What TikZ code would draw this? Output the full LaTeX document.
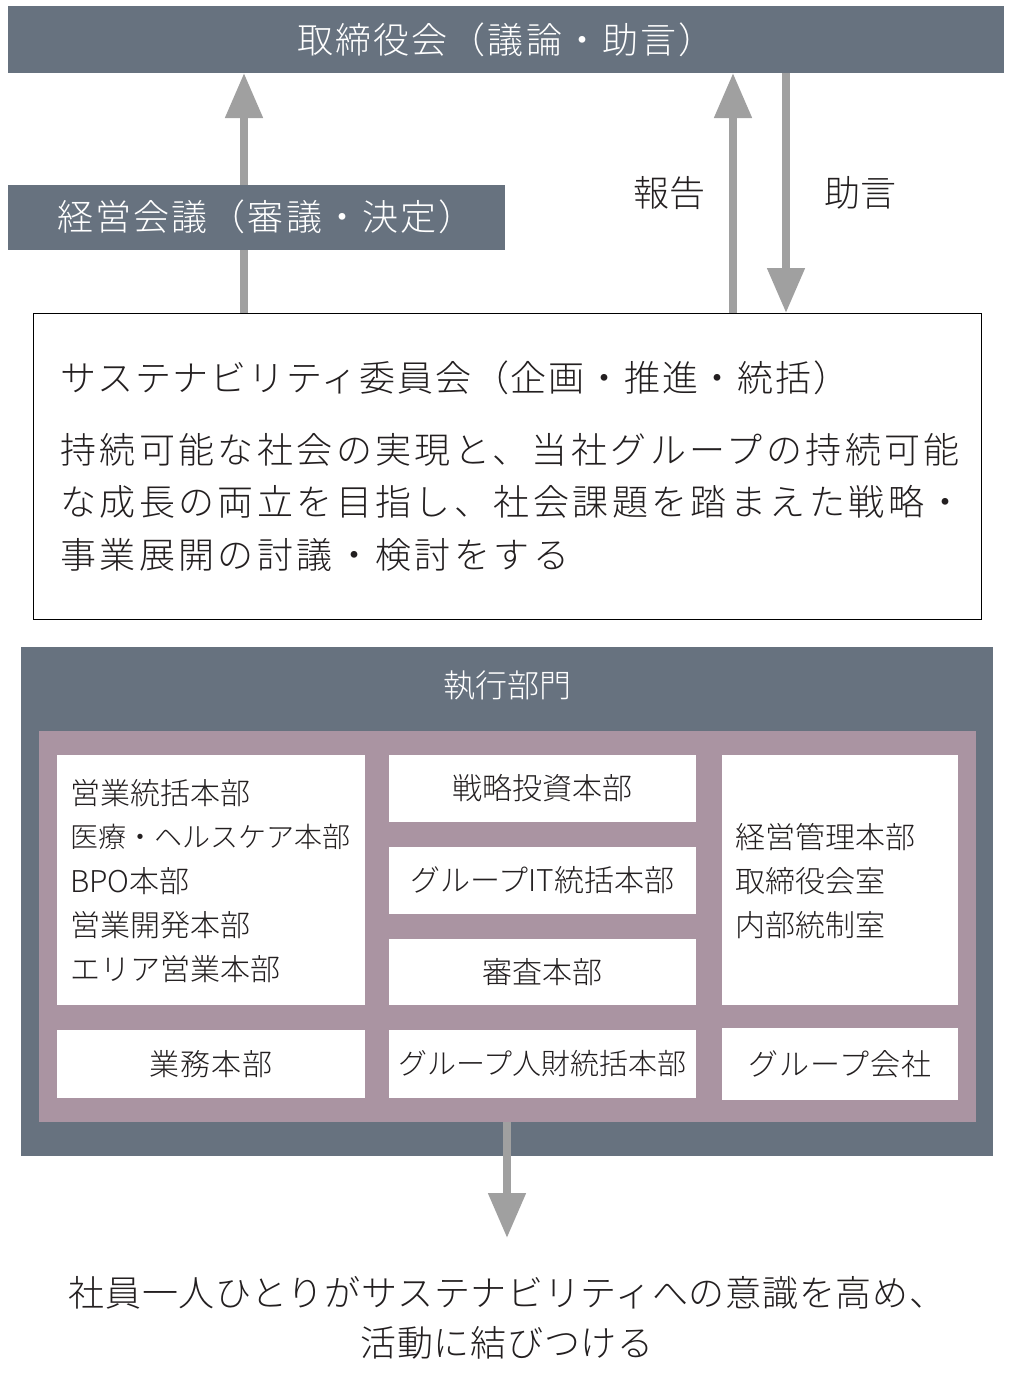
\documentclass[tikz,border=0pt]{standalone}
\usepackage{fontspec}
\setmainfont{Noto Sans CJK JP Light}
\usetikzlibrary{arrows.meta}
\definecolor{slate}{HTML}{67727F}
\definecolor{mauve}{HTML}{AA94A2}
\definecolor{arrowgray}{HTML}{A0A0A0}
\definecolor{ink}{HTML}{231F20}
\newcommand\fsBig{\fontsize{36}{44}\selectfont}
\newcommand\fsMid{\fontsize{32}{38}\selectfont}
\newcommand\fsSmall{\fontsize{30}{36}\selectfont}
\begin{document}
\begin{tikzpicture}[x=1pt,y=-1pt,
  box/.style={anchor=north west, inner sep=0pt, outer sep=0pt},
  darkbox/.style={box, fill=slate, text=white},
  whitebox/.style={box, fill=white, text=ink},
  bigarrow/.style={draw=arrowgray, line width=8pt, -{Triangle[length=45pt,width=36pt]}},
  lbl/.style={inner sep=0pt, text=ink},
  linetext/.style={inner sep=0pt, anchor=west, text=ink}
]
\useasboundingbox (0,0) rectangle (1012,1389);
\fill[white] (0,0) rectangle (1012,1389);

% board
\node[darkbox, minimum width=996pt, minimum height=67pt, font=\fsBig\addfontfeatures{LetterSpace=6}] (board) at (8,6) {取締役会（議論・助言）};

% sustainability committee
\node[box, draw=black, line width=1pt, fill=white, minimum width=948pt, minimum height=306pt] (sus) at (33,313) {};
\node[linetext, font=\fsBig\addfontfeatures{LetterSpace=5}] (s1) at (60,378) {サステナビリティ委員会（企画・推進・統括）};
\node[linetext, font=\fsBig\addfontfeatures{LetterSpace=9.5}] (s2) at (60,450) {持続可能な社会の実現と、当社グループの持続可能};
\node[linetext, font=\fsBig\addfontfeatures{LetterSpace=9.5}] (s3) at (60,502) {な成長の両立を目指し、社会課題を踏まえた戦略・};
\node[linetext, font=\fsBig\addfontfeatures{LetterSpace=9.5}] (s4) at (60,555) {事業展開の討議・検討をする};

% arrows between board and committee
\coordinate (xa) at (244,0);
\coordinate (xb) at (733,0);
\coordinate (xc) at (786,0);
\draw[bigarrow] (sus.north -| xa) -- (board.south -| xa);
\draw[bigarrow] (sus.north -| xb) -- (board.south -| xb);
\draw[bigarrow] (board.south -| xc) -- (sus.north -| xc);
\node[lbl, font=\fsBig] (rep) at (669,193) {報告};
\node[lbl, font=\fsBig] (adv) at (860,193) {助言};

% management meeting (drawn over arrow)
\node[darkbox, minimum width=497pt, minimum height=65pt] (keiei) at (8,185) {};
\node[inner sep=0pt, anchor=west, text=white, font=\fsBig\addfontfeatures{LetterSpace=6}] (keieit) at (57,217) {経営会議（審議・決定）};

% executive division
\node[darkbox, minimum width=972pt, minimum height=509pt] (exec) at (21,647) {};
\node[inner sep=0pt, text=white, font=\fsMid] (exect) at (507,686) {執行部門};
\node[box, fill=mauve, minimum width=937pt, minimum height=391pt] (inner) at (39,731) {};

% white boxes
\node[whitebox, minimum width=308pt, minimum height=250pt] (bl) at (57,755) {};
\node[linetext, font=\fsSmall] (bl1) at (70,793) {営業統括本部};
\node[linetext, font=\fontsize{28}{34}\selectfont] (bl2) at (70,837) {医療・ヘルスケア本部};
\node[linetext, font=\fsSmall] (bl3) at (70,881) {BPO本部};
\node[linetext, font=\fsSmall] (bl4) at (70,925) {営業開発本部};
\node[linetext, font=\fsSmall] (bl5) at (70,969) {エリア営業本部};

\node[whitebox, minimum width=307pt, minimum height=67pt, font=\fsSmall] (m1) at (389,755) {戦略投資本部};
\node[whitebox, minimum width=307pt, minimum height=67pt, font=\fsSmall] (m2) at (389,847) {グループIT統括本部};
\node[whitebox, minimum width=307pt, minimum height=66pt, font=\fsSmall] (m3) at (389,939) {審査本部};

\node[whitebox, minimum width=236pt, minimum height=250pt] (br) at (722,755) {};
\node[linetext, font=\fsSmall] (br1) at (735,837) {経営管理本部};
\node[linetext, font=\fsSmall] (br2) at (735,881) {取締役会室};
\node[linetext, font=\fsSmall] (br3) at (735,925) {内部統制室};

\node[whitebox, minimum width=308pt, minimum height=68pt, font=\fsSmall\addfontfeatures{LetterSpace=4}] (b1) at (57,1030) {業務本部};
\node[whitebox, minimum width=307pt, minimum height=68pt, font=\fontsize{29}{34}\selectfont] (b2) at (389,1030) {グループ人財統括本部};
\node[whitebox, minimum width=236pt, minimum height=72pt, font=\fsSmall\addfontfeatures{LetterSpace=3}] (b3) at (722,1028) {グループ会社};

% bottom arrow and text
\coordinate (endp) at (507,1238);
\draw[bigarrow] (inner.south -| endp) -- (endp);
\node[lbl, align=center, font=\fontsize{36}{50}\selectfont\addfontfeatures{LetterSpace=2}] (bottom) at (507,1318) {社員一人ひとりがサステナビリティへの意識を高め、\\活動に結びつける};
\end{tikzpicture}
\end{document}
